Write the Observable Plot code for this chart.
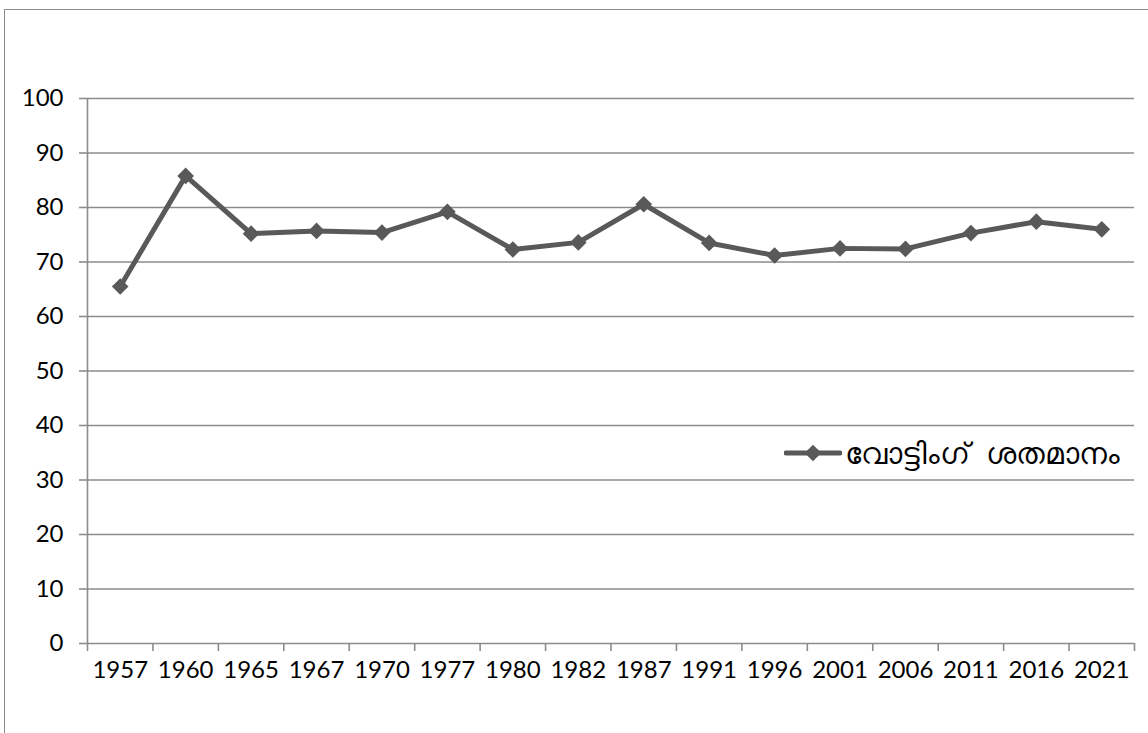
<!DOCTYPE html>
<html>
<head>
<meta charset="utf-8">
<script src="https://cdn.jsdelivr.net/npm/d3@7"></script>
<script src="https://cdn.jsdelivr.net/npm/@observablehq/plot@0.6"></script>
<style>
  html, body { margin: 0; padding: 0; background: #fff; overflow: hidden; width: 1148px; height: 733px; }
  #wrap { position: relative; width: 1148px; height: 733px; }
  #frame { position: absolute; left: 4px; top: 9px; width: 1200px; height: 800px; border: 1.5px solid #8c8c8c; box-sizing: border-box; }
  #chart { position: absolute; left: 0; top: 0; }
  #legend { position: absolute; left: 784px; top: 432px; display: flex; align-items: center; font-family: "Noto Sans", Lato, sans-serif; font-size: 30px; font-weight: 300; color: #000; white-space: nowrap; word-spacing: 8px; }
  #legend svg { margin-right: 3px; }
</style>
</head>
<body>
<div id="wrap">
  <div id="frame"></div>
  <div id="chart"></div>
  <div id="legend"></div>
</div>
<script>
const years = ["1957","1960","1965","1967","1970","1977","1980","1982","1987","1991","1996","2001","2006","2011","2016","2021"];
const turnout = [65.5, 85.8, 75.2, 75.7, 75.4, 79.2, 72.3, 73.6, 80.6, 73.5, 71.2, 72.5, 72.4, 75.3, 77.4, 76.0];
const yTicks = [0, 10, 20, 30, 40, 50, 60, 70, 80, 90, 100];
const seriesName = "വോട്ടിംഗ് ശതമാനം";

const data = years.map((y, i) => ({i, year: y, value: turnout[i]}));
const idx = years.map((_, i) => i);
const bounds = [...idx.map(i => i - 0.5), years.length - 0.5];

const lineColor = "#595959";
const gridColor = "#8c8c8c";
const font = "Lato, 'Open Sans', sans-serif";

const chart = Plot.plot({
  width: 1148,
  height: 733,
  marginLeft: 87,
  marginRight: 14,
  marginTop: 98,
  marginBottom: 90,
  style: {fontFamily: font, fontSize: "24px", color: "#000", background: "transparent"},
  x: {type: "linear", domain: [-0.5, years.length - 0.5]},
  y: {domain: [0, 100]},
  marks: [
    Plot.gridY(yTicks, {stroke: gridColor, strokeOpacity: 1, strokeWidth: 1.6}),
    Plot.ruleX([-0.5], {stroke: gridColor, strokeWidth: 1.6}),
    Plot.axisY(yTicks, {tickSize: 8, tickPadding: 16, stroke: gridColor, strokeOpacity: 1, strokeWidth: 1.6, label: null, fill: "#000", fontSize: 24}),
    Plot.axisX(bounds, {tickSize: 8, tickFormat: () => "", stroke: gridColor, strokeOpacity: 1, strokeWidth: 1.6, label: null}),
    Plot.axisX(idx, {tickSize: 0, tickPadding: 17, tickFormat: i => years[i], label: null, fill: "#000", fontSize: 24}),
    Plot.line(data, {x: "i", y: "value", stroke: lineColor, strokeWidth: 5, strokeLinejoin: "miter"}),
    Plot.dot(data, {x: "i", y: "value", symbol: "diamond2", r: 7.5, fill: lineColor, stroke: null})
  ]
});
document.getElementById("chart").appendChild(chart);

// legend
const leg = document.getElementById("legend");
const sw = d3.create("svg").attr("width", 58).attr("height", 20);
sw.append("line").attr("x1", 2).attr("x2", 56).attr("y1", 10).attr("y2", 10).attr("stroke", lineColor).attr("stroke-width", 5).attr("stroke-linecap", "round");
sw.append("path").attr("d", d3.symbol(d3.symbolDiamond2, Math.PI * 7.5 * 7.5)()).attr("transform", "translate(29,10)").attr("fill", lineColor);
leg.appendChild(sw.node());
const span = document.createElement("span");
span.textContent = seriesName;
leg.appendChild(span);
</script>
</body>
</html>
